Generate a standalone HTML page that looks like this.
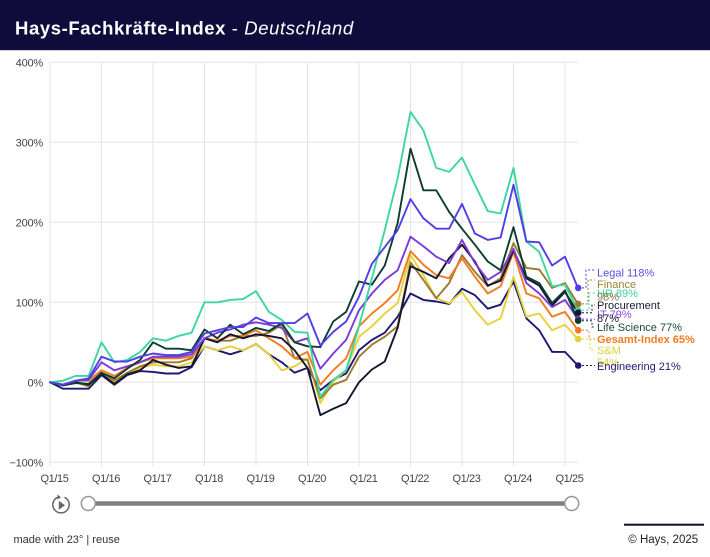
<!DOCTYPE html>
<html>
<head>
<meta charset="utf-8">
<style>
html,body{margin:0;padding:0;background:#fff;}
body{width:710px;height:557px;overflow:hidden;position:relative;font-family:"Liberation Sans",sans-serif;}
svg{display:block;}
</style>
</head>
<body>
<svg width="710" height="557" viewBox="0 0 710 557" xmlns="http://www.w3.org/2000/svg" font-family="Liberation Sans, sans-serif">
  <!-- header -->
  <rect x="0" y="0" width="710" height="50" fill="#0f0c3b"/>
  <rect x="0" y="50" width="710" height="1" fill="#d0d0d8"/>
  <text x="15" y="34.5" fill="#ffffff" font-size="18.5" letter-spacing="0.6"><tspan font-weight="bold">Hays-Fachkräfte-Index</tspan><tspan> - </tspan><tspan font-style="italic">Deutschland</tspan></text>

  <!-- grid -->
  <g stroke="#e4e4e4" stroke-width="1" fill="none">
    <line x1="50" y1="62.3" x2="578" y2="62.3"/>
    <line x1="50" y1="142.3" x2="578" y2="142.3"/>
    <line x1="50" y1="222.3" x2="578" y2="222.3"/>
    <line x1="50" y1="302.3" x2="578" y2="302.3"/>
    <line x1="50" y1="382.3" x2="578" y2="382.3"/>
    <line x1="50" y1="462.3" x2="578" y2="462.3"/>
    <line x1="50" y1="62" x2="50" y2="466"/>
    <line x1="101.5" y1="62" x2="101.5" y2="466"/>
    <line x1="153" y1="62" x2="153" y2="466"/>
    <line x1="204.5" y1="62" x2="204.5" y2="466"/>
    <line x1="256" y1="62" x2="256" y2="466"/>
    <line x1="307.5" y1="62" x2="307.5" y2="466"/>
    <line x1="359" y1="62" x2="359" y2="466"/>
    <line x1="410.5" y1="62" x2="410.5" y2="466"/>
    <line x1="462" y1="62" x2="462" y2="466"/>
    <line x1="513.5" y1="62" x2="513.5" y2="466"/>
    <line x1="565" y1="62" x2="565" y2="466"/>
  </g>

  <!-- y labels -->
  <g font-size="11" fill="#444" text-anchor="end" letter-spacing="-0.2">
    <text x="43" y="66.3">400%</text>
    <text x="43" y="146.3">300%</text>
    <text x="43" y="226.3">200%</text>
    <text x="43" y="306.3">100%</text>
    <text x="43" y="386.3">0%</text>
    <text x="43" y="466.3">−100%</text>
  </g>
  <!-- x labels -->
  <g font-size="11" fill="#444" text-anchor="middle" letter-spacing="-0.4">
    <text x="54.5" y="482">Q1/15</text>
    <text x="106" y="482">Q1/16</text>
    <text x="157.5" y="482">Q1/17</text>
    <text x="209" y="482">Q1/18</text>
    <text x="260.5" y="482">Q1/19</text>
    <text x="312" y="482">Q1/20</text>
    <text x="363.5" y="482">Q1/21</text>
    <text x="415" y="482">Q1/22</text>
    <text x="466.5" y="482">Q1/23</text>
    <text x="518" y="482">Q1/24</text>
    <text x="569.5" y="482">Q1/25</text>
  </g>

  <!-- series -->
  <g transform="translate(50,382.3) scale(12.875,-0.8)" fill="none" stroke-width="1.9" stroke-linejoin="round" stroke-linecap="round">
    <!-- Engineering -->
    <polyline vector-effect="non-scaling-stroke" stroke="#1e1873" points="0,0 1,-8 2,-8 3,-8 4,9 5,-3 6,9 7,14 8,13 9,11 10,11 11,19 12,45 13,40 14,35 15,40 16,48 17,35 18,25 19,12 20,18 21,-10 22,3 23,11 24,40 25,53 26,62 27,82 28,111 29,103 30,101 31,98 32,117 33,109 34,92 35,97 36,126 37,80 38,65 39,38 40,38 41,21"/>
    <!-- S&M -->
    <polyline vector-effect="non-scaling-stroke" stroke="#e6d23a" points="0,0 1,-3 2,0 3,-2 4,10 5,0 6,10 7,18 8,22 9,20 10,20 11,25 12,45 13,40 14,45 15,40 16,48 17,35 18,15 19,20 20,30 21,-26 22,1 23,15 24,57 25,70 26,86 27,99 28,159 29,134 30,105 31,99 32,113 33,90 34,72 35,80 36,132 37,82 38,86 39,65 40,72 41,54"/>
    <!-- Finance -->
    <polyline vector-effect="non-scaling-stroke" stroke="#9b7b2f" points="0,0 1,-3 2,0 3,-5 4,12 5,2 6,12 7,20 8,25 9,25 10,25 11,30 12,55 13,52 14,52 15,58 16,58 17,62 18,72 19,30 20,28 21,-20 22,-3 23,3 24,32 25,47 26,57 27,70 28,150 29,128 30,105 31,124 32,159 33,138 34,120 35,130 36,174 37,143 38,141 39,118 40,124 41,98"/>
    <!-- Gesamt -->
    <polyline vector-effect="non-scaling-stroke" stroke="#f07c22" points="0,0 1,-3 2,2 3,2 4,15 5,8 6,18 7,25 8,30 9,30 10,30 11,32 12,55 13,52 14,58 15,58 16,65 17,55 18,45 19,30 20,38 21,-3 22,15 23,30 24,70 25,86 26,99 27,115 28,164 29,147 30,134 31,130 32,155 33,132 34,111 35,120 36,163 37,111 38,105 39,82 40,88 41,65"/>
    <!-- Procurement -->
    <polyline vector-effect="non-scaling-stroke" stroke="#151530" points="0,0 1,-3 2,0 3,-3 4,10 5,-2 6,10 7,15 8,28 9,22 10,18 11,20 12,55 13,50 14,60 15,55 16,60 17,58 18,55 19,40 20,18 21,-41 22,-33 23,-26 24,0 25,16 26,26 27,68 28,145 29,138 30,130 31,155 32,172 33,151 34,121 35,127 36,165 37,130 38,121 39,96 40,113 41,87"/>
    <!-- IT -->
    <polyline vector-effect="non-scaling-stroke" stroke="#7b3ad8" points="0,0 1,-3 2,2 3,3 4,25 5,15 6,20 7,25 8,32 9,32 10,32 11,35 12,55 13,62 14,66 15,72 16,75 17,72 18,68 19,50 20,55 21,17 22,36 23,53 24,90 25,111 26,128 27,140 28,182 29,170 30,157 31,149 32,178 33,149 34,128 35,138 36,167 37,124 38,111 39,94 40,103 41,79"/>
    <!-- Life Science -->
    <polyline vector-effect="non-scaling-stroke" stroke="#0d3d30" points="0,0 1,-4 2,-1 3,-2 4,12 5,5 6,17 7,28 8,50 9,42 10,42 11,40 12,66 13,55 14,72 15,60 16,68 17,64 18,74 19,50 20,45 21,44 22,76 23,88 24,126 25,122 26,146 27,199 28,292 29,240 30,240 31,213 32,192 33,172 34,151 35,140 36,194 37,132 38,124 39,99 40,115 41,77"/>
    <!-- HR -->
    <polyline vector-effect="non-scaling-stroke" stroke="#3dd6a3" points="0,0 1,2 2,8 3,8 4,50 5,25 6,28 7,38 8,55 9,52 10,58 11,62 12,100 13,100 14,103 15,104 16,114 17,88 18,78 19,63 20,62 21,-18 22,3 23,15 24,70 25,130 26,190 27,255 28,338 29,315 30,268 31,263 32,281 33,247 34,214 35,211 36,268 37,176 38,163 39,120 40,122 41,90"/>
    <!-- Legal -->
    <polyline vector-effect="non-scaling-stroke" stroke="#4f3fe8" points="0,0 1,-3 2,2 3,5 4,32 5,26 6,26 7,32 8,36 9,34 10,34 11,38 12,61 13,65 14,69 15,69 16,81 17,74 18,74 19,74 20,86 21,46 22,63 23,76 24,107 25,148 26,169 27,190 28,229 29,205 30,192 31,192 32,223 33,186 34,178 35,181 36,247 37,176 38,175 39,146 40,157 41,118"/>
  </g>

  <!-- connectors -->
  <g fill="none" stroke-width="1" stroke-dasharray="2,2">
    <path d="M578 287.9 H586 V270 H595" stroke="#4f3fe8"/>
    <path d="M578 303.9 H588 V280 H595" stroke="#9b7b2f"/>
    <path d="M578 310.3 H589 V293 H595" stroke="#3dd6a3"/>
    <path d="M578 312.7 H592 V305 H595" stroke="#151530"/>
    <path d="M578 319.1 H595" stroke="#7b3ad8"/>
    <path d="M578 320.7 H592 V327 H595" stroke="#0d3d30"/>
    <path d="M578 330.3 H589 V339 H595" stroke="#f07c22"/>
    <path d="M578 339.1 H590 V350 H595" stroke="#e6d23a"/>
    <path d="M578 365.5 H595" stroke="#1e1873"/>
  </g>
  <!-- end dots -->
  <g>
    <circle cx="578.2" cy="287.9" r="3.3" fill="#4f3fe8"/>
    <circle cx="578.2" cy="303.9" r="3.3" fill="#9b7b2f"/>
    <circle cx="578.2" cy="310.3" r="3.3" fill="#3dd6a3"/>
    <circle cx="578.2" cy="312.7" r="3.3" fill="#151530"/>
    <circle cx="578.2" cy="319.1" r="3.3" fill="#7b3ad8"/>
    <circle cx="578.2" cy="320.7" r="3.3" fill="#0d3d30"/>
    <circle cx="578.2" cy="330.3" r="3.3" fill="#f07c22"/>
    <circle cx="578.2" cy="339.1" r="3.3" fill="#e6d23a"/>
    <circle cx="578.2" cy="365.5" r="3.3" fill="#1e1873"/>
  </g>

  <!-- end labels -->
  <g font-size="11">
    <text x="597" y="276.5" fill="#5a4fe0">Legal 118%</text>
    <text x="597" y="288" fill="#9c8435">Finance</text>
    <text x="597" y="297" fill="#3fcf9f">HR 89%</text>
    <text x="597" y="300.5" fill="#8a7a45">98%</text>
    <text x="597" y="309" fill="#1a1a3a">Procurement</text>
    <text x="597" y="318" fill="#8a4de0">IT 79%</text>
    <text x="597" y="322" fill="#1a1a3a">87%</text>
    <text x="597" y="331" fill="#1d4a3a">Life Science 77%</text>
    <text x="597" y="343" fill="#f07c22" font-weight="bold">Gesamt-Index 65%</text>
    <text x="597" y="354" fill="#e3cf3a">S&amp;M</text>
    <text x="597" y="366" fill="#e3cf3a">54%</text>
    <text x="597" y="370" fill="#1e1873">Engineering 21%</text>
  </g>

  <!-- play control -->
  <g fill="none" stroke="#666" stroke-width="1.5">
    <path d="M64.5 497.3 A8.2 8.2 0 1 1 57.5 497.3"/>
  </g>
  <path d="M57.5 494.5 L61 497.2 L57.3 499.6 Z" fill="#666"/>
  <path d="M58.8 500.8 L65 505.3 L58.8 509.8 Z" fill="#666"/>

  <!-- slider -->
  <line x1="88" y1="503.5" x2="572" y2="503.5" stroke="#808080" stroke-width="4.5"/>
  <circle cx="88.3" cy="503.5" r="7" fill="#fff" stroke="#999" stroke-width="1.5"/>
  <circle cx="571.7" cy="503.5" r="7" fill="#fff" stroke="#999" stroke-width="1.5"/>

  <!-- footer -->
  <text x="13.5" y="543" font-size="11" fill="#333">made with 23° | reuse</text>
  <rect x="624" y="523.7" width="80" height="2" fill="#0f0c2e"/>
  <text x="628.3" y="543" font-size="11.5" fill="#222">© Hays, 2025</text>
</svg>
</body>
</html>
